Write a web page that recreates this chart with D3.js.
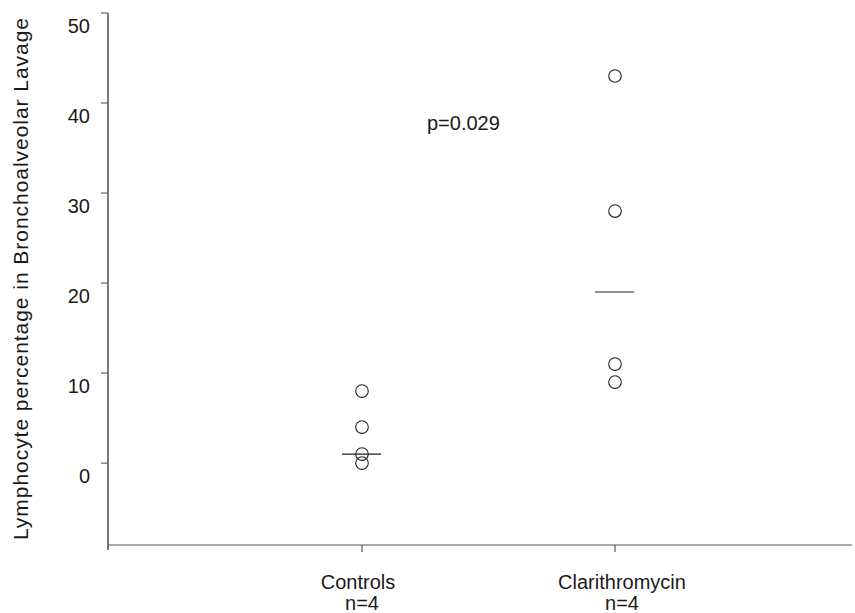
<!DOCTYPE html>
<html lang='en'>
<head>
  <meta charset='UTF-8'>
  <title>Lymphocyte percentage</title>
  <style>
    body { margin: 0; background: #fff; }
    text { font-family: 'Liberation Sans', Arial, sans-serif; fill: #1a1a1a; }
  </style>
</head>
<body>
  <script src='https://cdn.jsdelivr.net/npm/d3@7/dist/d3.min.js'></script>
  <script>
const width = 855;
const height = 613;

// data
const groups = ['Controls', 'Clarithromycin'];
const groupN = ['n=4', 'n=4'];
const controlValues = [8, 4, 1, 0];
const clarithroValues = [43, 28, 11, 9];
const medians = [1, 19];
const yTicks = [0, 10, 20, 30, 40, 50];
const pLabel = 'p=0.029';

const svg = d3.select('body').append('svg')
    .attr('width', width)
    .attr('height', height);

// plot edges
const plotLeft = 108, plotTop = 13, plotBottom = 545, plotRight = 852;

const y = d3.scaleLinear().domain([-9.1, 50]).range([plotBottom, plotTop]);
const x = d3.scalePoint().domain(groups).range([362, 615]);

// y axis
const yAxis = svg.append('g').attr('transform', 'translate(' + plotLeft + ',0)');
yAxis.append('line')
    .attr('x1', 0).attr('x2', 0)
    .attr('y1', plotTop).attr('y2', plotBottom + 5)
    .attr('stroke', '#222').attr('stroke-width', 1.2);
yAxis.selectAll('.tick').data(yTicks).enter().append('line')
    .attr('x1', -7).attr('x2', 0)
    .attr('y1', d => y(d)).attr('y2', d => y(d))
    .attr('stroke', '#666').attr('stroke-width', 1.2);
// labels sit a little below their ticks in the original
yAxis.selectAll('.lbl').data(yTicks).enter().append('text')
    .attr('x', -18).attr('y', d => y(d) + 20)
    .attr('text-anchor', 'end')
    .attr('font-size', 20)
    .text(d => d);

// x axis
svg.append('line')
    .attr('x1', plotLeft).attr('x2', plotRight)
    .attr('y1', plotBottom).attr('y2', plotBottom)
    .attr('stroke', '#555').attr('stroke-width', 1.2);
svg.selectAll('.xtick').data(groups).enter().append('line')
    .attr('x1', d => x(d)).attr('x2', d => x(d))
    .attr('y1', plotBottom).attr('y2', plotBottom + 7)
    .attr('stroke', '#555').attr('stroke-width', 1.2);
const nameShift = [-4, 7];
const nShift = [0, 7];
svg.selectAll('.xlbl').data(groups).enter().append('text')
    .attr('x', (d, i) => x(d) + nameShift[i]).attr('y', 589)
    .attr('text-anchor', 'middle')
    .attr('font-size', 20)
    .text(d => d);
svg.selectAll('.nlbl').data(groupN).enter().append('text')
    .attr('x', (d, i) => x(groups[i]) + nShift[i]).attr('y', 610)
    .attr('text-anchor', 'middle')
    .attr('font-size', 20)
    .text(d => d);

// y label
svg.append('text')
    .attr('transform', 'translate(28,279) rotate(-90)')
    .attr('text-anchor', 'middle')
    .attr('font-size', 21)
    .attr('textLength', 522)
    .attr('lengthAdjust', 'spacing')
    .text('Lymphocyte percentage in Bronchoalveolar Lavage');

// points
const series = [controlValues, clarithroValues];
series.forEach((vals, i) => {
  svg.selectAll('.pt' + i).data(vals).enter().append('circle')
      .attr('cx', x(groups[i]))
      .attr('cy', d => y(d))
      .attr('r', 6.3)
      .attr('fill', 'none')
      .attr('stroke', '#222')
      .attr('stroke-width', 1.1);
});

// median lines
svg.selectAll('.med').data(medians).enter().append('line')
    .attr('x1', (d, i) => x(groups[i]) - 20)
    .attr('x2', (d, i) => x(groups[i]) + 19)
    .attr('y1', d => y(d)).attr('y2', d => y(d))
    .attr('stroke', '#222').attr('stroke-width', 1.1);

// p value
svg.append('text')
    .attr('x', 427).attr('y', 130)
    .attr('font-size', 20)
    .text(pLabel);
  </script>
</body>
</html>
